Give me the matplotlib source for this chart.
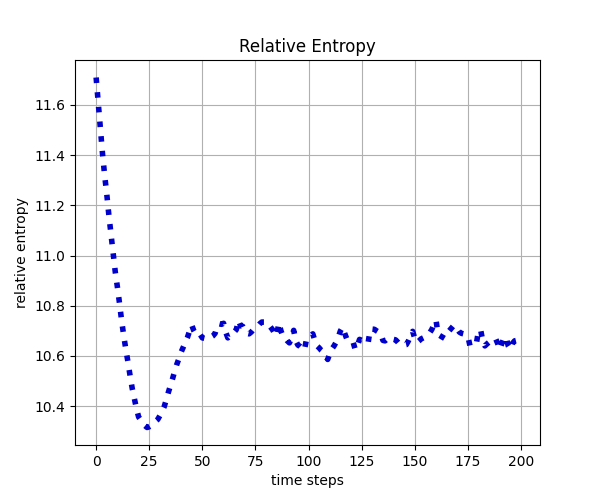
import matplotlib
matplotlib.use("Agg")
import matplotlib.pyplot as plt
import numpy as np

# relative entropy per time step (t = 0..199)
descent = [11.709, 11.608, 11.502, 11.405, 11.320, 11.245, 11.160, 11.085, 11.010, 10.935,
           10.875, 10.810, 10.740, 10.680, 10.625, 10.575, 10.520, 10.470, 10.430, 10.390,
           10.357, 10.345, 10.333, 10.322, 10.315, 10.318, 10.323, 10.332, 10.340, 10.347,
           10.362, 10.380, 10.397, 10.425, 10.455, 10.482, 10.510, 10.540, 10.567, 10.590,
           10.615, 10.635, 10.655, 10.674, 10.700, 10.723]

plateau = [10.700, 10.685, 10.680, 10.685, 10.672, 10.670, 10.670, 10.668, 10.675, 10.680,
           10.690, 10.720, 10.728, 10.726, 10.730, 10.695, 10.672, 10.680, 10.690, 10.695,
           10.705, 10.742, 10.720, 10.718, 10.700, 10.690, 10.688, 10.695, 10.705, 10.712,
           10.718, 10.728, 10.735, 10.735, 10.737, 10.728, 10.716, 10.705, 10.690, 10.680,
           10.732, 10.700, 10.678, 10.672, 10.660, 10.652, 10.672, 10.702, 10.660, 10.643,
           10.638, 10.630, 10.622, 10.665, 10.672, 10.680, 10.688, 10.660, 10.640, 10.632,
           10.622, 10.615, 10.600, 10.586, 10.610, 10.628, 10.640, 10.655, 10.675, 10.700,
           10.715, 10.690, 10.668, 10.660, 10.652, 10.654, 10.625, 10.640, 10.666, 10.662,
           10.655, 10.652, 10.650, 10.705, 10.707, 10.706, 10.700, 10.695, 10.690, 10.662,
           10.660, 10.668, 10.674, 10.670, 10.666, 10.664, 10.655, 10.645, 10.643, 10.643,
           10.645, 10.660, 10.680, 10.698, 10.670, 10.653, 10.660, 10.668, 10.672, 10.680,
           10.688, 10.692, 10.705, 10.725, 10.742, 10.685, 10.680, 10.675, 10.670, 10.685,
           10.698, 10.708, 10.718, 10.722, 10.708, 10.695, 10.690, 10.688, 10.684, 10.678,
           10.640, 10.645, 10.648, 10.650, 10.700, 10.704, 10.660, 10.640, 10.648, 10.655,
           10.660, 10.665, 10.670, 10.650, 10.626, 10.650, 10.672, 10.676, 10.640, 10.626,
           10.650, 10.660, 10.662, 10.660]

entropy = np.array(descent + plateau)
steps = np.arange(len(entropy))

fig, ax = plt.subplots(figsize=(6, 5), dpi=100)
ax.plot(steps, entropy, linestyle=':', linewidth=4, color='mediumblue')
ax.set_title('Relative Entropy')
ax.set_xlabel('time steps')
ax.set_ylabel('relative entropy')
ax.grid(True)

plt.savefig('out.png')
